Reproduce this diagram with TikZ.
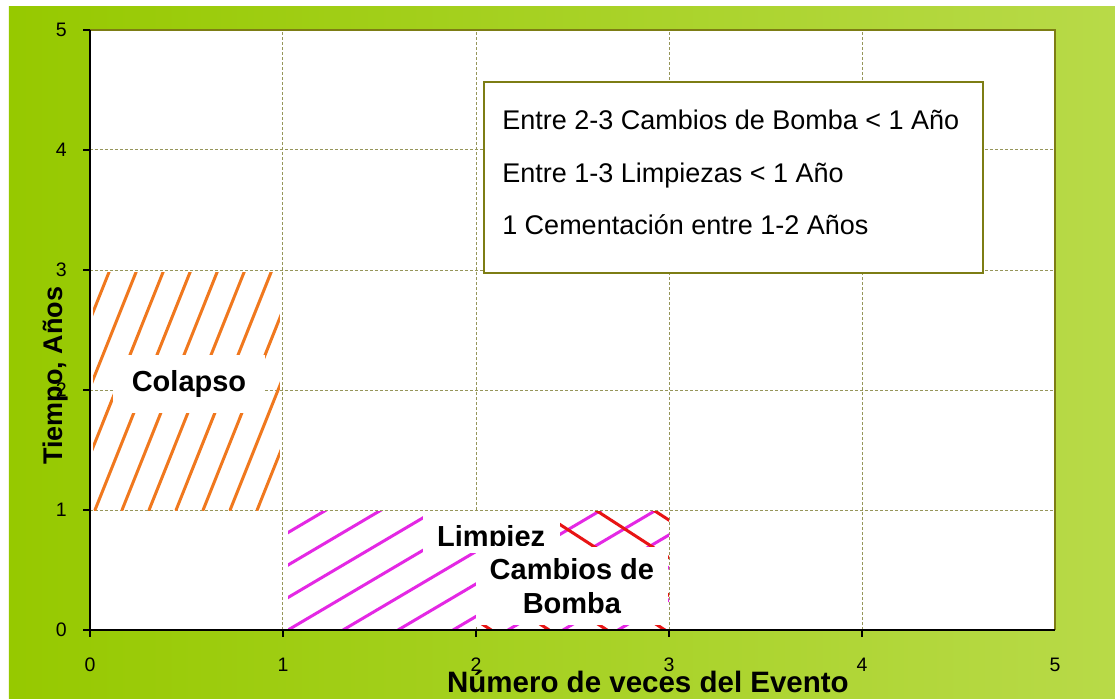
\documentclass[tikz,border=0pt]{standalone}
\usepackage{fontspec}
\setmainfont{Liberation Sans}
\usepackage{tikz}

\definecolor{bgleft}{RGB}{150,201,0}
\definecolor{bgright}{RGB}{184,218,72}
\definecolor{gridc}{RGB}{150,150,90}
\definecolor{framec}{RGB}{125,125,20}
\definecolor{hatchorange}{RGB}{240,120,30}
\definecolor{hatchmag}{RGB}{228,40,228}
\definecolor{hatchred}{RGB}{232,20,20}

\begin{document}
\begin{tikzpicture}[x=193pt,y=120pt,
  gridline/.style={gridc, line width=1pt, dash pattern=on 3pt off 2pt},
  hatch/.style={line width=3pt, line cap=round},
  labelbox/.style={fill=white, inner sep=0pt, font=\fontsize{29}{34}\selectfont\bfseries},
  ticklabel/.style={inner sep=0pt, font=\fontsize{19.5}{21}\selectfont},
  legendtext/.style={anchor=base west, inner sep=0pt, font=\fontsize{27}{30}\selectfont}]

\useasboundingbox (-0.4663,-0.5667) rectangle (5.3109,5.25);
\fill[white] (-0.4663,-0.5667) rectangle (5.3109,5.25);
\shade[left color=bgleft, right color=bgright] (-0.4197,-0.5667) rectangle (5.3109,5.1917);

% plot area and grid
\fill[white] (0,0) rectangle (5,5);
\foreach \i in {1,...,4} {
  \draw[gridline] (\i,0) -- (\i,5);
  \draw[gridline] (0,\i) -- (5,\i);
}

% hatched zones
\begin{scope}
\clip (0.016,1) rectangle (0.984,2.975);
\foreach \k in {0,...,10}
  \draw[hatch, hatchorange] (-0.394+0.14*\k,1) -- ++(0.497,2);
\end{scope}
\begin{scope}
\clip (1.026,0) rectangle (3,0.985);
\foreach \k in {0,...,11}
  \draw[hatch, hatchmag] (-0.114+0.285*\k,0) -- ++(1.053,1);
\end{scope}
\begin{scope}
\clip (2,0) rectangle (3,0.99);
\foreach \k in {0,...,8}
  \draw[hatch, hatchred] (0.819+0.3*\k,1) -- ++(0.96,-1);
\end{scope}

% zone labels
\node[labelbox, minimum width=152pt, minimum height=58pt] (colapso) at (0.513,2.05) {Colapso};
\node[labelbox, minimum width=137pt, minimum height=42pt] (limpbox) at (2.080,0.817) {};
\begin{scope}
\clip ([yshift=8pt]limpbox.south west) rectangle (limpbox.north east);
\node[labelbox, fill=none, anchor=base west] (limpieza) at (1.798,0.70) {Limpiez};
\end{scope}
\node[labelbox, align=center, minimum width=192pt, minimum height=78pt] (cambios) at (2.497,0.367) {Cambios de\\Bomba};

% axes
\draw[framec, line width=2pt] (0,5) -- (5,5) -- (5,0);
\draw[black, line width=2pt] (0,5) -- (0,0) -- (5,0);
\foreach \i in {0,...,5} {
  \draw[line width=1.5pt] (0,\i) -- ++(-7pt,0);
  \node[ticklabel, anchor=east] (yt\i) at (-0.119,\i) {\i};
  \node[ticklabel] (xt\i) at (\i,-0.292) {\i};
}
\foreach \i in {0,...,4}
  \draw[line width=1.5pt] (\i,0) -- ++(0,-7pt);

\node[font=\fontsize{29.5}{32}\selectfont\bfseries, anchor=base, inner sep=0pt] (xtitle) at (2.891,-0.517) {Número de veces del Evento};
\node[font=\fontsize{27}{30}\selectfont\bfseries, rotate=90, anchor=base, inner sep=0pt] (ytitle) at (-0.140,2.117) {Tiempo, Años};

% legend
\node[draw=framec, fill=white, line width=2pt, minimum width=499pt, minimum height=191pt, inner sep=0pt] (legend) at (3.334,3.771) {};
\node[legendtext] (leg1) at (2.135,4.167) {Entre 2-3 Cambios de Bomba < 1 Año};
\node[legendtext] (leg2) at (2.135,3.725) {Entre 1-3 Limpiezas < 1 Año};
\node[legendtext] (leg3) at (2.135,3.292) {1 Cementación entre 1-2 Años};

\end{tikzpicture}
\end{document}
